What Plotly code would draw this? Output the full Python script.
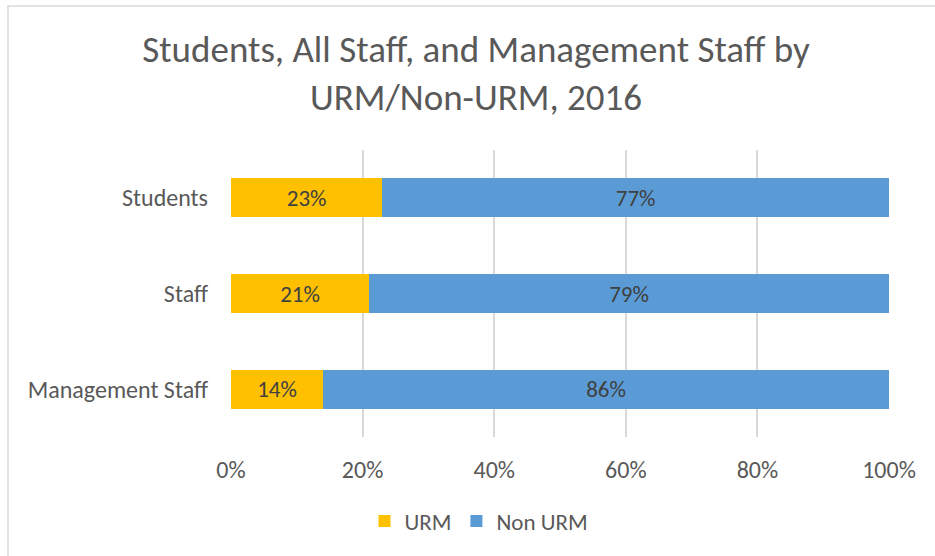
import plotly.graph_objects as go

groups = ["Students", "Staff", "Management Staff"]
urm = [0.23, 0.21, 0.14]
non_urm = [0.77, 0.79, 0.86]
tick_vals = [0, 0.2, 0.4, 0.6, 0.8, 1.0]
tick_text = ["0%", "20%", "40%", "60%", "80%", "100%"]

font_family = "Carlito, Calibri, Lato, sans-serif"

W, H = 935, 556

fig = go.Figure()
fig.add_trace(go.Bar(
    y=groups, x=urm, name="URM", orientation="h",
    marker=dict(color="#FFC000", line=dict(width=0)),
    texttemplate="%{x:.0%}", textposition="inside", insidetextanchor="middle",
    textfont=dict(color="#404040", size=23, family=font_family),
))
fig.add_trace(go.Bar(
    y=groups, x=non_urm, name="Non URM", orientation="h",
    marker=dict(color="#5B9BD5", line=dict(width=0)),
    texttemplate="%{x:.0%}", textposition="inside", insidetextanchor="middle",
    textfont=dict(color="#404040", size=23, family=font_family),
))

fig.update_layout(
    barmode="stack",
    bargap=0.59,
    width=W, height=H,
    margin=dict(l=231, r=46, t=150, b=119),
    paper_bgcolor="white", plot_bgcolor="white",
    font=dict(family=font_family, color="#595959", size=24),
    title=dict(
        text="Students, All Staff, and Management Staff by<br>URM/Non-URM, 2016",
        x=476 / W, xref="container", xanchor="center",
        y=1 - 62 / H, yref="container", yanchor="middle",
        font=dict(size=37, color="#595959", family=font_family),
    ),
    legend=dict(
        orientation="h", xref="container", x=479 / W, xanchor="center",
        yref="container", y=1 - 521 / H, yanchor="middle",
        font=dict(size=23, color="#595959"), traceorder="normal",
        itemwidth=30,
    ),
    xaxis=dict(
        range=[0, 1], tickvals=tick_vals, ticktext=tick_text,
        showgrid=True, gridcolor="#d9d9d9", gridwidth=1.5,
        zeroline=False, showline=False, ticks="", ticklabelstandoff=16,
        fixedrange=True,
    ),
    yaxis=dict(
        categoryorder="array", categoryarray=groups, autorange="reversed",
        showgrid=False, zeroline=False, showline=False, ticks="",
        ticklabelstandoff=22,
    ),
    shapes=[dict(
        type="rect", xref="paper", yref="paper",
        x0=(8 - 231) / 658, x1=(945 - 231) / 658,
        y0=(437 - 570) / 287, y1=(437 - 6) / 287,
        line=dict(color="#d9d9d9", width=1.5), fillcolor="rgba(0,0,0,0)",
        layer="below",
    )],
)

fig.write_html(
    "out.html",
    config={"displayModeBar": False},
    post_script="document.body.style.margin='0';document.body.style.padding='0';",
)
